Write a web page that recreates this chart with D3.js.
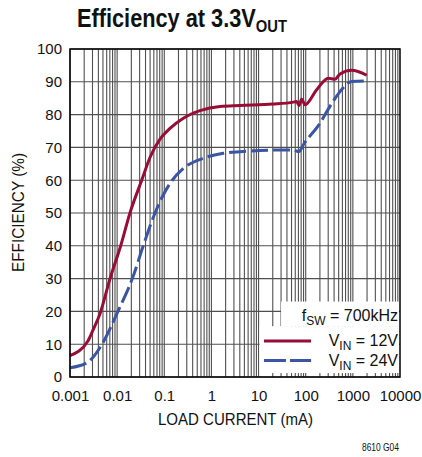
<!DOCTYPE html>
<html>
<head>
<meta charset="utf-8">
<script src="https://cdn.jsdelivr.net/npm/d3@7"></script>
<style>
  body { margin: 0; background: #fff; }
  text { font-family: "Liberation Sans", Arial, sans-serif; fill: #111; }
</style>
</head>
<body>
<div id="chart"></div>
<script>
// load current (mA) and efficiency (%)
var current12 = [0.001, 0.0024, 0.00312, 0.00433, 0.00706, 0.0119, 0.0187, 0.0332, 0.05, 0.0811, 0.132, 0.254, 0.573, 1.52, 4.04, 20, 54.6, 64.4, 72.1, 82.2, 96.6, 171, 302, 419, 534, 946, 1968];
var eff12     = [6.5, 11, 14.5, 19.3, 30, 40, 50, 60, 67, 72.5, 75.8, 78.9, 81.2, 82.5, 82.8, 83.2, 83.8, 84.0, 82.8, 84.7, 83.0, 87.6, 91.1, 90.8, 92.4, 93.5, 92.0];

var current24 = [0.001, 0.00226, 0.00312, 0.0051, 0.0104, 0.021, 0.0358, 0.0636, 0.095, 0.132, 0.254, 0.673, 1.79, 4.04, 28.5, 54, 72, 89, 201, 327, 534, 946, 1968];
var eff24     = [2.8, 4.3, 6.1, 10.7, 20, 30, 40, 50, 55.5, 59, 63.6, 66.7, 68.2, 68.7, 69.2, 69.2, 68.7, 70.8, 77.4, 82.5, 87, 90.1, 90.3];

var xTicks = [0.001, 0.01, 0.1, 1, 10, 100, 1000, 10000];
var xTickLabels = ["0.001", "0.01", "0.1", "1", "10", "100", "1000", "10000"];
var yTicks = [0, 10, 20, 30, 40, 50, 60, 70, 80, 90, 100];

var margin = {top: 49, right: 22, bottom: 80, left: 70},
    width = 422 - margin.left - margin.right,
    height = 457 - margin.top - margin.bottom;

var svg = d3.select("#chart")
  .append("svg")
    .attr("width", 422)
    .attr("height", 457);

var g = svg.append("g")
    .attr("transform", "translate(" + margin.left + "," + margin.top + ")");

var x = d3.scaleLog()
  .domain([0.001, 10000])
  .range([0, width]);

var y = d3.scaleLinear()
  .domain([0, 100])
  .range([height, 0]);

// minor + major vertical grid lines
var vLines = [];
for (var p = -3; p < 4; p++) {
  for (var m = 1; m < 10; m++) vLines.push(m * Math.pow(10, p));
}
g.append("g")
  .selectAll("line")
  .data(vLines)
  .enter()
  .append("line")
    .attr("x1", function(d) { return x(d); })
    .attr("x2", function(d) { return x(d); })
    .attr("y1", 0)
    .attr("y2", height)
    .style("stroke", "#505050")
    .style("stroke-width", 1.1);

g.append("g")
  .selectAll("line")
  .data(yTicks)
  .enter()
  .append("line")
    .attr("x1", 0)
    .attr("x2", width)
    .attr("y1", function(d) { return y(d); })
    .attr("y2", function(d) { return y(d); })
    .style("stroke", "#505050")
    .style("stroke-width", 1.1);

// legend background hides the grid
g.append("rect")
  .attr("x", x(30)).attr("y", y(23))
  .attr("width", width - x(30) - 1).attr("height", y(15.5) - y(23))
  .attr("fill", "#fff");
g.append("rect")
  .attr("x", x(10.5)).attr("y", y(15.5))
  .attr("width", width - x(10.5) - 1).attr("height", y(1.2) - y(15.5))
  .attr("fill", "#fff");

// axes (labels only)
var xAxis = g.append("g")
  .attr("transform", "translate(0," + height + ")")
  .call(d3.axisBottom(x).tickValues(xTicks).tickSize(0).tickPadding(13)
    .tickFormat(function(d, i) { return xTickLabels[i]; }));
xAxis.select(".domain").remove();
xAxis.selectAll("text").style("font-size", "15px").style("font-family", null).attr("fill", "#111");

var yAxis = g.append("g")
  .call(d3.axisLeft(y).tickValues(yTicks).tickSize(0).tickPadding(8));
yAxis.select(".domain").remove();
yAxis.selectAll("text").style("font-size", "15px").style("font-family", null).attr("fill", "#111");

// curves
var line = d3.line()
  .x(function(d) { return x(d[0]); })
  .y(function(d) { return y(d[1]); })
  .curve(d3.curveMonotoneX);

g.append("path")
  .datum(d3.zip(current24, eff24))
  .attr("d", line)
  .attr("fill", "none")
  .attr("stroke", "#3a55a4")
  .attr("stroke-width", 3)
  .attr("stroke-dasharray", "17,5");

g.append("path")
  .datum(d3.zip(current12, eff12))
  .attr("d", line)
  .attr("fill", "none")
  .attr("stroke", "#980d36")
  .attr("stroke-width", 3);

// frame
g.append("rect")
  .attr("width", width).attr("height", height)
  .attr("fill", "none")
  .attr("stroke", "#000")
  .attr("stroke-width", 1.5);

// legend
var fsw = g.append("text")
  .attr("x", width - 2).attr("y", y(20) + 10)
  .attr("text-anchor", "end")
  .style("font-size", "16px");
fsw.append("tspan").text("f");
fsw.append("tspan").attr("dy", 4).style("font-size", "12px").text("SW");
fsw.append("tspan").attr("dy", -4).text(" = 700kHz");

var legendItems = [
  {label: "12V", color: "#980d36", dash: null, v: 11},
  {label: "24V", color: "#3a55a4", dash: "22,4", v: 5}
];
legendItems.forEach(function(d) {
  g.append("line")
    .attr("x1", x(13)).attr("x2", x(130))
    .attr("y1", y(d.v)).attr("y2", y(d.v))
    .attr("stroke", d.color)
    .attr("stroke-width", 3)
    .attr("stroke-dasharray", d.dash);
  var t = g.append("text")
    .attr("x", width - 2).attr("y", y(d.v) + 5)
    .attr("text-anchor", "end")
    .style("font-size", "16px");
  t.append("tspan").text("V");
  t.append("tspan").attr("dy", 4).style("font-size", "12px").text("IN");
  t.append("tspan").attr("dy", -4).text(" = " + d.label);
});

// axis titles
g.append("text")
  .attr("x", 158 - margin.left).attr("y", height + 48)
  .attr("textLength", 155)
  .attr("lengthAdjust", "spacingAndGlyphs")
  .style("font-size", "16px")
  .text("LOAD CURRENT (mA)");

g.append("text")
  .attr("transform", "rotate(-90)")
  .attr("x", -(272 - margin.top)).attr("y", -46)
  .attr("textLength", 119)
  .attr("lengthAdjust", "spacingAndGlyphs")
  .style("font-size", "16px")
  .text("EFFICIENCY (%)");

// title, squeezed to a condensed look
var title = svg.append("text")
  .attr("transform", "translate(77,27) scale(0.87,1)")
  .style("font-size", "25px")
  .style("font-weight", "bold");
title.append("tspan").text("Efficiency at 3.3V");
title.append("tspan").attr("dy", 5).style("font-size", "17px").text("OUT");

svg.append("text")
  .attr("x", 362).attr("y", 451)
  .attr("textLength", 37)
  .attr("lengthAdjust", "spacingAndGlyphs")
  .style("font-size", "10px")
  .text("8610 G04");
</script>
</body>
</html>
